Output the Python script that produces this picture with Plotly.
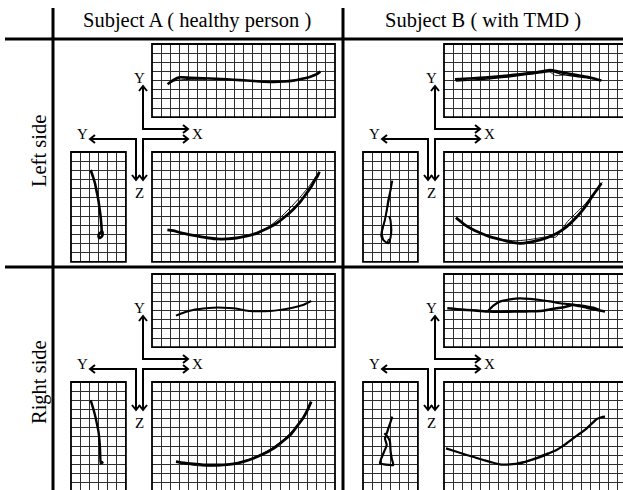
import plotly.graph_objects as go

W, H = 623, 490
U = 9.15  # pixels per grid cell

# ---------------- data (grid units; y measured downward from rect top) ----------------
col_titles = ["Subject A ( healthy person )", "Subject B ( with TMD )"]
row_titles = ["Left side", "Right side"]

# Subject A, left side
ALxy_x = [1.7, 2.4, 3.0, 4.2, 5.6, 7.0, 8.2, 9.6, 11.1, 12.3, 13.3, 14.4, 15.4, 16.4, 17.3, 18.0, 18.4]
ALxy_y = [4.4, 3.9, 3.65, 3.7, 3.75, 3.8, 3.86, 3.95, 4.04, 4.12, 4.15, 4.1, 4.0, 3.8, 3.57, 3.3, 3.0]
ALxy2_x = [1.8, 2.6, 3.4, 4.6, 6.0]
ALxy2_y = [4.3, 4.0, 3.9, 3.85, 3.85]
ALyz_x = [2.15, 2.4, 2.62, 2.8, 2.99, 3.12, 3.24, 3.3, 3.35, 3.3, 3.1, 3.0, 3.1, 3.4, 3.45, 3.3]
ALyz_y = [1.97, 2.7, 3.42, 4.3, 5.25, 6.2, 7.07, 7.8, 8.52, 8.75, 8.9, 9.2, 9.4, 9.2, 8.8, 8.5]
ALxz_x = [1.68, 2.3, 3.06, 4.2, 5.25, 6.2, 7.07, 8.2, 9.25, 10.3, 11.4, 12.5, 13.6, 14.5, 15.4, 16.2, 16.9, 17.4, 17.8, 18.1, 18.3]
ALxz_y = [8.52, 8.6, 8.8, 9.05, 9.25, 9.4, 9.5, 9.5, 9.4, 9.2, 8.9, 8.4, 7.8, 7.1, 6.3, 5.45, 4.5, 3.8, 3.06, 2.6, 2.15]
ALxz2_x = [13.0, 14.2, 15.3, 16.3, 17.2, 17.9, 18.3]
ALxz2_y = [8.0, 7.0, 5.9, 4.8, 3.7, 2.7, 2.2]

# Subject B, left side
BLxy_x = [1.2, 2.2, 3.2, 4.5, 5.76, 7.0, 8.3, 9.2, 10.1, 10.9, 11.6, 12.5, 13.4, 14.5, 15.6, 16.5, 17.2]
BLxy_y = [3.86, 3.8, 3.75, 3.66, 3.57, 3.45, 3.3, 3.2, 3.1, 2.95, 2.84, 3.0, 3.2, 3.4, 3.57, 3.8, 4.0]
BLxy2_x = [1.3, 3.0, 5.0, 7.0, 9.0, 10.5, 11.8, 13.0, 14.5, 16.0, 17.0]
BLxy2_y = [4.05, 3.95, 3.8, 3.6, 3.35, 3.15, 3.0, 3.35, 3.55, 3.75, 3.95]
BLxy3_x = [11.4, 12.2, 13.2]
BLxy3_y = [2.9, 3.45, 3.35]
BLyz_x = [3.2, 3.0, 2.77, 2.6, 2.4, 2.2, 2.04, 2.0, 2.2, 2.77, 3.0, 3.1, 3.05, 3.0, 2.85]
BLyz_y = [3.13, 4.2, 5.25, 6.3, 7.4, 8.1, 8.7, 9.2, 9.6, 9.98, 9.4, 8.5, 7.9, 7.4, 7.0]
BLyz2_x = [3.1, 2.9, 2.6, 2.3, 2.1, 2.3, 2.6, 2.8]
BLyz2_y = [3.5, 5.0, 6.5, 7.8, 8.9, 9.7, 9.9, 9.5]
BLxz_x = [1.3, 2.2, 3.2, 4.1, 5.0, 5.9, 6.85, 7.6, 8.3, 9.4, 10.5, 11.4, 12.3, 13.1, 13.8, 14.6, 15.3, 15.8, 16.3, 16.8, 17.2]
BLxz_y = [7.18, 7.9, 8.5, 8.9, 9.25, 9.5, 9.73, 9.9, 9.98, 9.85, 9.6, 9.3, 8.9, 8.4, 7.8, 7.0, 6.16, 5.45, 4.7, 4.0, 3.42]
BLxz2_x = [6.5, 8.0, 9.5, 11.0, 12.2, 12.8, 13.5, 14.5, 15.5, 16.3, 17.0, 17.3]
BLxz2_y = [9.6, 9.7, 9.55, 9.3, 9.3, 8.6, 7.6, 6.6, 5.6, 4.6, 3.7, 3.3]

# Subject A, right side
ARxy_x = [2.62, 3.5, 4.5, 5.6, 6.7, 7.8, 8.9, 9.8, 10.7, 11.8, 12.9, 14.0, 15.1, 15.8, 16.5, 17.0, 17.4]
ARxy_y = [4.55, 4.2, 3.93, 3.78, 3.68, 3.68, 3.75, 3.9, 4.04, 4.08, 4.04, 3.92, 3.75, 3.58, 3.39, 3.15, 2.95]
ARyz_x = [2.15, 2.4, 2.62, 2.82, 3.0, 3.1, 3.17, 3.2, 3.24, 3.3, 3.46, 3.3]
ARyz_y = [1.97, 2.8, 3.6, 4.5, 5.4, 6.3, 7.25, 8.1, 8.9, 8.85, 8.8, 8.7]
ARxz_x = [2.62, 3.5, 4.5, 5.6, 6.7, 7.8, 8.9, 10.0, 11.1, 12.2, 13.3, 14.2, 15.1, 15.8, 16.5, 17.0, 17.4]
ARxz_y = [8.7, 8.85, 8.96, 9.05, 9.07, 9.05, 8.96, 8.7, 8.34, 7.85, 7.25, 6.55, 5.79, 4.9, 3.97, 3.05, 2.15]
ARxz2_x = [3.5, 5.0, 6.5, 8.0, 9.5, 11.0, 12.5, 14.0, 15.5, 16.8, 17.4]
ARxz2_y = [8.95, 9.15, 9.2, 9.1, 8.8, 8.3, 7.6, 6.6, 5.2, 3.4, 2.3]

# Subject B, right side
BRxy_x = [0.36, 1.4, 2.48, 3.6, 4.85, 6.2, 7.6, 9.0, 10.5, 11.4, 12.3, 13.2, 14.1, 14.8, 15.6, 16.6, 17.6]
BRxy_y = [3.75, 3.85, 3.93, 4.0, 4.1, 4.12, 4.1, 4.08, 4.04, 3.9, 3.75, 3.6, 3.39, 3.5, 3.68, 3.9, 4.1]
BRxy2_x = [4.85, 5.4, 6.1, 7.2, 8.3, 9.4, 10.5, 11.6, 12.7, 13.6, 14.5, 15.4, 16.3, 17.0]
BRxy2_y = [4.0, 3.45, 3.02, 2.78, 2.66, 2.72, 2.84, 3.0, 3.2, 3.3, 3.39, 3.5, 3.68, 3.95]
BRyz_x = [3.2, 3.0, 2.77, 2.6, 2.4, 2.59, 2.4, 2.15, 1.95, 1.86, 2.3, 2.8, 3.3, 3.15, 3.02, 2.98, 2.95, 2.7, 2.33]
BRyz_y = [3.79, 4.4, 5.06, 5.6, 6.16, 6.89, 7.4, 7.98, 8.5, 8.89, 9.0, 9.05, 9.07, 8.4, 7.6, 7.0, 6.52, 6.0, 5.6]
BRxz_x = [0.22, 1.3, 2.48, 3.4, 4.3, 5.2, 6.1, 7.2, 8.3, 9.4, 10.5, 11.4, 12.3, 13.2, 14.1, 14.9, 15.6, 16.2, 16.7, 17.2, 17.6]
BRxz_y = [7.25, 7.6, 7.98, 8.25, 8.52, 8.78, 9.0, 9.0, 8.89, 8.55, 8.16, 7.8, 7.43, 6.85, 6.16, 5.6, 5.06, 4.5, 4.04, 3.85, 3.79]
BRxz2_x = [8.0, 9.5, 11.0, 12.5, 14.0, 15.5, 16.6]
BRxz2_y = [8.8, 8.6, 8.1, 7.3, 6.3, 5.2, 4.2]

# ---------------- layout ----------------
FONT = "Liberation Serif, Times New Roman, serif"
ROW_DY = 230
COL_DX = 292

# view -> (x0, y0, ncols, nrows) in pixels relative to cell (row 0, col 0)
VIEWS = {
    "xy": (152, 44, 20, 8),
    "yz": (71, 152, 6, 12),
    "xz": (152, 152, 20, 12),
}

PANELS = [
    (0, 0, "xy", [(ALxy_x, ALxy_y, 2.6), (ALxy2_x, ALxy2_y, 1.0)]),
    (0, 0, "yz", [(ALyz_x, ALyz_y, 2.6)]),
    (0, 0, "xz", [(ALxz_x, ALxz_y, 2.8), (ALxz2_x, ALxz2_y, 0.9)]),
    (0, 1, "xy", [(BLxy_x, BLxy_y, 2.6), (BLxy2_x, BLxy2_y, 1.4), (BLxy3_x, BLxy3_y, 0.8)]),
    (0, 1, "yz", [(BLyz_x, BLyz_y, 2.0), (BLyz2_x, BLyz2_y, 1.2)]),
    (0, 1, "xz", [(BLxz_x, BLxz_y, 2.8), (BLxz2_x, BLxz2_y, 0.9)]),
    (1, 0, "xy", [(ARxy_x, ARxy_y, 2.0)]),
    (1, 0, "yz", [(ARyz_x, ARyz_y, 2.4)]),
    (1, 0, "xz", [(ARxz_x, ARxz_y, 2.8), (ARxz2_x, ARxz2_y, 0.9)]),
    (1, 1, "xy", [(BRxy_x, BRxy_y, 2.6), (BRxy2_x, BRxy2_y, 2.2)]),
    (1, 1, "yz", [(BRyz_x, BRyz_y, 2.2)]),
    (1, 1, "xz", [(BRxz_x, BRxz_y, 2.2), (BRxz2_x, BRxz2_y, 0.9)]),
]


def px(x):
    return x / W


def py(y):
    return 1 - y / H


fig = go.Figure()
layout = dict(
    width=W, height=H, margin=dict(l=0, r=0, t=0, b=0),
    paper_bgcolor="white", plot_bgcolor="white", showlegend=False,
)
shapes = []
annotations = []

for i, (r, c, view, strokes) in enumerate(PANELS, start=1):
    bx, by, nc, nr = VIEWS[view]
    x0 = bx + COL_DX * c
    y0 = by + ROW_DY * r
    x1f = x0 + nc * U
    y1f = y0 + nr * U
    x1 = min(x1f, W)
    y1 = min(y1f, H)
    xr = [0, (x1 - x0) / U]
    yr = [(y1 - y0) / U, 0]
    suf = "" if i == 1 else str(i)
    common = dict(showgrid=True, gridcolor="#2e2e2e", gridwidth=1, dtick=1, tick0=0,
                  showticklabels=False, ticks="", zeroline=False, showline=False,
                  fixedrange=True)
    layout["xaxis" + suf] = dict(domain=[px(x0), px(x1)], range=xr, anchor="y" + suf, **common)
    layout["yaxis" + suf] = dict(domain=[py(y1), py(y0)], range=yr, anchor="x" + suf, **common)
    shapes.append(dict(type="rect", xref="paper", yref="paper",
                       x0=px(x0), x1=px(x1f), y0=py(y1f), y1=py(y0),
                       line=dict(color="black", width=1.8), layer="above"))
    for sx, sy, lw in strokes:
        fig.add_trace(go.Scatter(x=sx, y=sy, mode="lines", xaxis="x" + suf, yaxis="y" + suf,
                                 line=dict(color="black", width=lw, shape="spline", smoothing=0.6),
                                 hoverinfo="skip"))


def seg(points, width=3):
    d = "M " + " L ".join(f"{px(x)},{py(y)}" for x, y in points)
    shapes.append(dict(type="path", xref="paper", yref="paper", path=d,
                       line=dict(color="black", width=width)))


# table separators
seg([(5, 39), (W, 39)], 3)
seg([(5, 267), (W, 267)], 3)
seg([(53, 8), (53, H)], 3)
seg([(343, 8), (343, H)], 3)

# axis-direction arrows in each cell
A = 5  # arrowhead size
for r in range(2):
    for c in range(2):
        dx, dy = COL_DX * c, ROW_DY * r
        # upper: Y up, X right
        seg([(143 + dx, 86 + dy), (143 + dx, 129 + dy), (188 + dx, 129 + dy)], 2)
        seg([(143 + dx - 4, 86 + dy + A), (143 + dx, 86 + dy), (143 + dx + 4, 86 + dy + A)], 2)
        seg([(188 + dx - A, 129 + dy - 4), (188 + dx, 129 + dy), (188 + dx - A, 129 + dy + 4)], 2)
        # lower left: Y left, Z down
        seg([(90 + dx, 139 + dy), (136 + dx, 139 + dy), (136 + dx, 180 + dy)], 2)
        seg([(90 + dx + A, 139 + dy - 4), (90 + dx, 139 + dy), (90 + dx + A, 139 + dy + 4)], 2)
        seg([(136 + dx - 4, 180 + dy - A), (136 + dx, 180 + dy), (136 + dx + 4, 180 + dy - A)], 2)
        # lower right: X right, Z down
        seg([(188 + dx, 139 + dy), (143 + dx, 139 + dy), (143 + dx, 180 + dy)], 2)
        seg([(188 + dx - A, 139 + dy - 4), (188 + dx, 139 + dy), (188 + dx - A, 139 + dy + 4)], 2)
        seg([(143 + dx - 4, 180 + dy - A), (143 + dx, 180 + dy), (143 + dx + 4, 180 + dy - A)], 2)
        for txt, tx, ty in [("Y", 139, 78), ("X", 197, 134), ("Y", 82, 134), ("Z", 139, 193)]:
            annotations.append(dict(text=txt, x=px(tx + dx), y=py(ty + dy), xref="paper", yref="paper",
                                    showarrow=False, xanchor="center", yanchor="middle",
                                    font=dict(family=FONT, size=15, color="black")))

for c, t in enumerate(col_titles):
    annotations.append(dict(text=t, x=px(197 + 286 * c), y=py(20), xref="paper", yref="paper",
                            showarrow=False, xanchor="center", yanchor="middle",
                            font=dict(family=FONT, size=20.5, color="black")))
for r, t in enumerate(row_titles):
    annotations.append(dict(text=t, x=px(39), y=py(151 + 231 * r), xref="paper", yref="paper",
                            showarrow=False, xanchor="center", yanchor="middle", textangle=-90,
                            font=dict(family=FONT, size=20.5, color="black")))

layout["shapes"] = shapes
layout["annotations"] = annotations
fig.update_layout(**layout)
fig.write_html("out.html", config={"displayModeBar": False, "staticPlot": True},
               post_script="document.body.style.margin='0';document.body.style.overflow='hidden';")
